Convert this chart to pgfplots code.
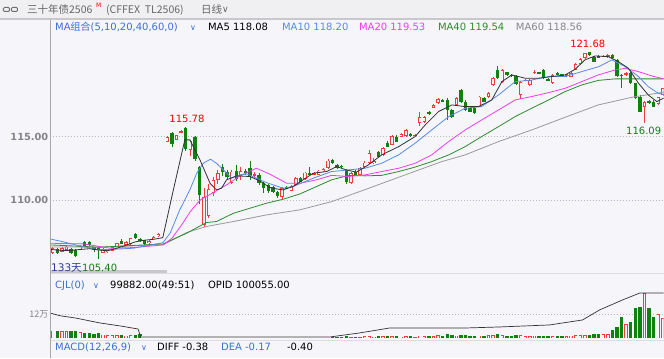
\documentclass[border=0pt]{standalone}
\usepackage{pgfplots}
\pgfplotsset{compat=1.18}
\usepackage{pgfplotstable}
\usepackage{fontspec}
\setmainfont{DejaVu Sans}
\newfontfamily\cjk{Noto Sans CJK SC}
\definecolor{bg}{HTML}{F5F5FA}
\definecolor{hdr}{HTML}{F0F0F3}
\definecolor{up}{HTML}{F23C3C}
\definecolor{dn}{HTML}{0E820E}
\definecolor{ma5}{HTML}{333333}
\definecolor{ma10}{HTML}{5A8AE8}
\definecolor{ma20}{HTML}{F03CF0}
\definecolor{ma40}{HTML}{2E8B2E}
\definecolor{ma60}{HTML}{9A9A9A}
\definecolor{lblue}{HTML}{3C6FD8}
\definecolor{tickc}{HTML}{858585}
\definecolor{sep}{HTML}{C8C8CC}
\definecolor{sep2}{HTML}{DCDCE2}
\definecolor{axc}{HTML}{A8A8A8}
\definecolor{icon}{HTML}{707070}
\definecolor{ttl}{HTML}{666666}
\definecolor{g88}{HTML}{888888}
\definecolor{darkb}{HTML}{2A3A9A}
\definecolor{lgreen}{HTML}{1A7A1A}

\pgfplotstableread{
i o h l c
0 105.85 106.30 105.78 106.20
2 105.95 106.30 105.90 106.20
3 106.05 106.45 106.00 106.35
6 106.10 106.50 106.05 106.40
11 105.88 106.20 105.85 106.14
12 105.92 106.12 105.85 106.08
13 106.04 106.35 106.00 106.30
14 106.35 106.65 106.30 106.61
16 106.50 106.75 106.45 106.70
17 106.56 107.05 106.50 107.00
21 106.61 106.85 106.58 106.80
22 106.95 107.18 106.92 107.13
23 107.15 107.40 107.12 107.35
25 114.60 115.05 114.55 114.95
27 114.74 115.15 114.70 115.13
28 115.35 115.55 115.30 115.45
30 113.95 114.75 113.48 114.69
33 108.05 110.95 107.90 110.25
34 108.75 111.30 108.60 110.90
35 110.60 111.85 110.30 111.60
36 111.60 112.35 111.30 112.10
39 111.35 112.35 111.30 112.25
41 111.90 112.60 111.60 112.30
44 111.95 112.20 111.80 112.05
50 110.23 111.00 110.10 110.94
52 110.76 111.20 110.70 111.12
53 111.20 111.80 111.15 111.73
55 111.65 112.25 111.60 112.17
57 112.05 112.20 111.95 112.10
58 111.99 112.40 111.95 112.33
59 112.30 112.50 112.25 112.45
60 112.51 113.20 112.45 113.12
65 111.38 112.20 111.30 112.12
67 111.99 112.60 111.95 112.51
68 112.59 113.05 112.55 112.96
69 112.90 113.95 112.85 113.69
70 112.90 113.30 112.85 113.10
72 113.56 114.15 113.50 114.08
74 114.35 115.10 114.30 115.05
76 115.00 115.25 114.95 115.18
77 115.05 115.60 115.00 115.52
79 115.10 115.20 115.05 115.13
80 116.05 116.97 115.80 116.57
81 116.18 116.65 116.10 116.57
83 117.28 117.55 117.25 117.49
84 117.62 118.05 117.55 117.94
88 117.49 118.10 117.40 118.01
93 117.36 118.20 117.30 118.15
95 118.09 118.50 118.05 118.46
96 119.06 119.65 119.00 119.59
98 119.32 120.30 119.25 120.24
102 118.28 119.40 117.94 119.32
103 119.40 119.55 119.35 119.45
104 119.06 119.50 119.00 119.45
105 120.00 120.20 119.95 120.10
109 119.19 119.90 119.10 119.85
112 119.80 119.95 119.70 119.90
113 119.72 120.10 119.70 120.03
114 120.24 120.75 120.20 120.71
115 120.71 121.15 120.65 121.11
116 121.16 121.60 121.10 121.55
120 121.29 121.40 121.25 121.34
121 121.24 121.50 121.20 121.42
125 119.85 120.05 119.80 119.98
129 117.31 117.80 116.09 117.75
132 117.57 118.15 117.50 118.09
133 118.28 118.85 118.20 118.80
}\candup

\pgfplotstableread{
i o h l c
1 106.15 106.22 105.80 105.85
4 106.15 106.22 105.75 105.85
5 106.10 106.15 105.55 105.62
7 106.68 106.78 106.35 106.40
8 106.70 106.80 106.40 106.45
9 106.30 106.35 105.95 106.05
10 106.20 106.35 105.40 106.17
15 106.80 106.95 106.52 106.56
18 107.32 107.40 106.95 107.00
19 106.93 107.00 106.70 106.75
20 106.83 106.90 106.50 106.56
26 115.26 115.35 114.20 114.45
29 115.66 115.78 113.90 114.05
31 115.00 115.05 113.10 113.25
32 112.60 112.70 109.70 110.40
37 112.60 112.85 111.90 112.20
38 112.20 112.40 111.65 111.80
40 112.33 112.80 111.50 111.70
42 112.30 112.45 112.00 112.10
43 112.50 113.05 111.60 111.90
45 112.00 112.10 111.20 111.35
46 111.33 111.40 110.55 110.94
47 111.20 111.30 110.60 110.75
48 111.07 111.15 110.55 110.68
49 110.68 110.75 110.15 110.29
51 111.05 111.15 110.85 110.94
54 111.73 111.85 111.40 111.46
56 112.17 112.64 111.90 111.99
61 113.17 113.25 112.85 112.90
62 112.78 112.85 112.45 112.51
63 112.70 112.80 112.55 112.62
64 112.38 112.45 111.30 111.46
66 112.25 112.35 111.90 111.99
71 113.82 113.90 113.35 113.43
73 114.53 114.65 114.15 114.21
75 115.00 115.10 114.55 114.61
78 115.18 115.25 114.98 115.03
82 116.97 117.05 116.70 116.78
85 117.88 117.95 117.70 117.75
86 117.88 118.00 116.31 117.10
87 117.10 117.20 116.45 116.57
89 118.67 118.75 117.65 117.75
90 117.75 117.85 117.00 117.10
91 117.23 117.30 116.90 116.97
92 117.23 117.30 116.75 116.83
94 118.01 118.10 117.70 117.75
97 120.24 120.56 119.50 119.59
99 120.06 120.10 119.80 119.85
100 119.85 119.90 119.70 119.80
101 119.77 119.85 119.05 119.14
106 120.05 120.10 119.95 120.00
107 120.24 120.30 119.50 119.59
108 119.50 119.60 119.35 119.40
110 120.00 120.10 119.85 119.90
111 119.88 119.95 119.80 119.85
117 121.63 121.68 121.35 121.42
118 121.29 121.35 120.85 120.90
119 121.34 121.40 121.20 121.24
122 121.42 121.50 121.10 121.16
123 121.03 121.10 119.70 119.77
124 119.85 119.95 118.80 119.80
126 119.98 120.05 119.10 119.19
127 119.19 119.25 117.95 118.01
128 118.15 118.25 116.90 116.97
130 117.83 117.90 117.55 117.62
131 117.75 117.85 117.30 117.36
}\canddn

\pgfplotstableread{
i v
0 3.8
2 3.5
3 3.7
6 3.2
11 1.8
12 1.6
13 1.5
14 1.6
16 1.3
17 1.5
65 0.6
67 0.7
68 0.9
69 1.2
70 0.8
72 1.1
74 1.2
76 0.8
77 1.0
79 0.7
80 1.3
81 1.2
83 1.2
84 1.4
88 1.3
93 1.3
95 1.4
96 1.6
98 1.5
102 1.5
103 1.1
104 1.2
105 1.3
109 1.1
112 1.1
113 1.3
114 1.4
115 1.6
116 1.7
120 2.1
121 2.2
125 7.0
129 22.5
132 12.0
133 10.0
}\volup

\pgfplotstableread{
i v
1 3.6
4 3.6
5 3.8
7 2.8
8 2.6
9 2.2
10 2.4
15 1.4
18 1.4
19 2.0
61 0.6
62 0.5
63 0.5
64 0.9
66 0.5
71 1.0
73 0.9
75 1.0
78 0.9
82 1.1
85 1.0
86 2.0
87 1.4
89 1.5
90 1.4
91 1.2
92 1.1
94 1.2
97 2.3
99 1.3
100 1.2
101 1.4
106 1.0
107 1.2
108 1.0
110 0.9
111 1.0
117 1.8
118 1.9
119 2.0
122 4.2
123 5.8
124 10.5
126 8.0
127 15.0
128 15.5
130 15.0
131 10.8
}\voldn

\newcommand\fs{\fontsize{10}{12}\selectfont}

\begin{document}
\begin{tikzpicture}[x=1pt,y=1pt]
\fill[bg] (0pt,0pt) rectangle (664pt,358pt);
\fill[hdr] (0pt,339pt) rectangle (664pt,358pt);

\begin{axis}[at={(50pt,85pt)}, anchor=south west, scale only axis,
  width=614pt, height=254pt,
  xmin=-0.59, xmax=133.18, ymin=104.28, ymax=124.25,
  axis line style={draw=none}, xtick=\empty,
  ytick={110,115}, yticklabels={110.00,115.00},
  major tick length=0pt,
  ymajorgrids, grid style={gray!55, dash pattern=on 1.2pt off 1.8pt, line width=0.6pt},
  yticklabel style={font=\bfseries\fontsize{9.8}{11}\selectfont, text=tickc, inner sep=1.5pt},
  error bars/error mark=none]
% wicks
\addplot[draw=none, mark=none, error bars/.cd, y dir=both, y explicit,
  error bar style={line width=0.7pt, draw=up}]
  table[x=i, y expr={(\thisrow{h}+\thisrow{l})/2}, y error expr={(\thisrow{h}-\thisrow{l})/2}] {\candup};
\addplot[draw=none, mark=none, error bars/.cd, y dir=both, y explicit,
  error bar style={line width=0.7pt, draw=dn}]
  table[x=i, y expr={(\thisrow{h}+\thisrow{l})/2}, y error expr={(\thisrow{h}-\thisrow{l})/2}] {\canddn};
% bodies
\addplot[draw=none, mark=none, error bars/.cd, y dir=both, y explicit,
  error bar style={line width=3.4pt, draw=up}]
  table[x=i, y expr={(\thisrow{o}+\thisrow{c})/2}, y error expr={max(abs(\thisrow{c}-\thisrow{o})/2,0.045)}] {\candup};
\addplot[draw=none, mark=none, error bars/.cd, y dir=both, y explicit,
  error bar style={line width=1.8pt, draw=bg}]
  table[x=i, y expr={(\thisrow{o}+\thisrow{c})/2}, y error expr={max(abs(\thisrow{c}-\thisrow{o})/2-0.07,0)}] {\candup};
\addplot[draw=none, mark=none, error bars/.cd, y dir=both, y explicit,
  error bar style={line width=3.4pt, draw=dn}]
  table[x=i, y expr={(\thisrow{o}+\thisrow{c})/2}, y error expr={max(abs(\thisrow{c}-\thisrow{o})/2,0.045)}] {\canddn};
% moving averages
\addplot[ma60, line width=0.8pt] coordinates {(-0.6,106.32) (10,106.3) (24.1,106.5) (29.2,107.45) (33.5,107.93) (39.4,108.32) (46.6,108.84) (53.9,109.24) (60.85,109.89) (68.1,110.83) (75.4,111.8) (84.8,113.03) (89.9,113.56) (97.2,114.61) (104.4,115.52) (111.7,116.52) (118.9,117.49) (126.2,118.09) (133.3,118.5)};
\addplot[ma40, line width=0.8pt] coordinates {(-0.6,106.48) (10.3,106.3) (24.1,106.56) (29.2,107.4) (33.5,108.24) (35.7,108.32) (39.4,108.97) (46.6,109.76) (50.2,110.07) (53.9,110.49) (57.5,111.07) (60.8,111.6) (64.5,111.95) (68.1,111.91) (71.7,111.95) (75.4,112.25) (79,112.6) (82.6,113.03) (86.3,113.56) (89.9,114.21) (93.5,115.0) (97.2,115.79) (100.8,116.57) (104.4,117.23) (108.1,117.88) (111.7,118.54) (115.3,119.06) (118.9,119.42) (122.6,119.54) (133.3,119.54)};
\addplot[ma20, line width=0.8pt] coordinates {(-0.6,106.61) (6.7,106.56) (12.5,106.22) (17.6,106.27) (24.1,106.48) (26,107.0) (28,108.0) (30,109.1) (32.1,110.0) (35,110.6) (37.9,111.2) (40.8,111.9) (44.4,112.51) (47.3,112.05) (51,111.33) (53.9,111.33) (57.5,111.6) (60.8,111.95) (64.5,111.86) (68.1,111.99) (71.7,112.25) (75.4,112.51) (79,112.9) (82.6,113.56) (86.3,114.61) (89.9,115.52) (93.5,116.31) (97.2,117.1) (100.8,117.88) (104.4,118.15) (108.1,118.46) (111.7,118.8) (115.3,119.32) (118.9,119.85) (122.6,120.24) (124.8,120.37) (127.7,120.11) (130.6,119.77) (133.3,119.53)};
\addplot[ma10, line width=0.8pt] coordinates {(-0.6,106.95) (2,106.75) (5,106.48) (8,106.25) (10,106.09) (14,106.15) (17.6,106.22) (21,106.45) (24,106.65) (25.6,107.4) (27.7,109.24) (29.9,110.81) (31.4,112.12) (32.8,112.9) (34.4,113.22) (35.7,112.9) (37.2,112.38) (39,111.73) (40.8,111.99) (42.3,112.07) (44.4,111.73) (46.6,111.38) (50.2,110.94) (52.4,111.07) (56.8,111.73) (60.8,112.25) (64.5,112.38) (68.1,112.51) (71.7,112.9) (75.4,113.56) (79,114.48) (82.6,115.52) (86.3,116.57) (89.9,117.23) (93.5,117.36) (97.2,118.28) (100.8,119.32) (104.4,119.45) (108.1,119.72) (111.7,119.72) (115.3,120.11) (119,120.5) (121.9,121.03) (124.8,120.5) (127.7,119.72) (129.8,118.93) (132,118.41) (133.3,118.3)};
\addplot[ma5, line width=0.8pt] coordinates {(-0.5,106.12) (2,106.05) (4,106.05) (6,106.12) (8,106.18) (10,106.08) (12,106.02) (14,106.22) (16,106.45) (18,106.72) (20,106.85) (22,106.92) (24,107.05) (26.3,110.8) (28.8,114.74) (29.9,114.74) (32.1,113.17) (34.3,111.33) (35.7,110.81) (36.8,110.94) (37.9,111.6) (40.1,111.91) (43,111.86) (45.2,111.5) (47.3,111.0) (48.5,110.9) (50.2,110.81) (52.4,111.07) (54.6,111.6) (56.8,112.12) (59.7,112.25) (61.9,112.64) (64,112.38) (66.2,112.2) (68.8,112.77) (71.7,113.56) (75.4,114.21) (79,115.0) (81.2,115.92) (84.1,116.97) (87,117.49) (89.9,117.36) (92.8,117.36) (95.7,117.88) (97.9,119.32) (100.1,119.85) (103,119.59) (105.9,119.59) (108.8,119.72) (111.7,119.85) (113.9,120.3) (116,121.03) (118.2,121.34) (121.1,121.29) (123.3,120.9) (125.5,120.37) (127.7,119.19) (129.8,118.28) (131.7,117.75) (133.3,118.05)};
\end{axis}

\begin{axis}[at={(50pt,18pt)}, anchor=south west, scale only axis,
  width=614pt, height=66pt,
  xmin=-0.59, xmax=133.18, ymin=-0.85, ymax=32.15,
  axis line style={draw=none}, xtick=\empty,
  ytick={12}, yticklabels={{\cjk 12万}},
  major tick length=0pt,
  ymajorgrids, grid style={gray!55, dash pattern=on 1.2pt off 1.8pt, line width=0.6pt},
  yticklabel style={font=\fontsize{9}{10}\selectfont, text=tickc, inner sep=1.5pt}]
\addplot[ycomb, line width=3.4pt, dn] table[x=i, y=v] {\voldn};
\addplot[ycomb, line width=3.4pt, up] table[x=i, y=v] {\volup};
\addplot[ycomb, line width=1.8pt, bg] table[x=i, y expr={max(\thisrow{v}-0.45,0)}] {\volup};
\addplot[gray!60, line width=2.5pt] coordinates {(19.2,0.6) (60.5,0.6)};
\addplot[ma5, line width=0.7pt] coordinates {(-0.6,12.6) (1.6,11.2) (4.9,10.1) (10.3,7.6) (14.7,6.1) (18.6,4.6) (19.2,0.6)};
\addplot[ma5, line width=0.7pt] coordinates {(60.5,0.6) (61.1,0.8) (66.9,2.6) (73.5,5.1) (90.3,5.1) (97.5,5.6) (108.3,6.6) (115.5,9.1) (119.2,14.1) (124.2,19.1) (128,22.6) (133.5,22.6)};
\end{axis}

% separators and frame
\fill[sep] (0pt,338pt) rectangle (664pt,339.8pt);
\fill[sep2] (50pt,83.5pt) rectangle (664pt,85.3pt);
\fill[sep] (50pt,85pt) rectangle (167pt,88.2pt);
\fill[sep2] (50pt,17pt) rectangle (664pt,18pt);
\draw[axc, line width=0.8pt] (50.5pt,0pt) -- (50.5pt,338pt);

% header
\draw[icon, line width=1pt, rounded corners=1pt] (3.5pt,346.5pt) rectangle (9.5pt,350.5pt);
\draw[icon, line width=1pt, rounded corners=1pt] (11.5pt,346.5pt) rectangle (17.5pt,350.5pt);
\node[anchor=base west, inner sep=0pt, text=ttl, font=\cjk\fontsize{10.5}{12}\selectfont] at (27pt,344.5pt) {三十年债2506};
\node[anchor=base west, inner sep=0pt, text=red, font=\fontsize{6}{7}\selectfont] at (96pt,350pt) {M};
\node[anchor=base west, inner sep=0pt, text=ttl, font=\cjk\fontsize{10.5}{12}\selectfont] at (106pt,344.5pt) {(CFFEX\ \ TL2506)};
\node[anchor=base west, inner sep=0pt, text=ttl, font=\cjk\fontsize{10.5}{12}\selectfont] at (201pt,344.5pt) {日线};
\node[anchor=base west, inner sep=0pt, text=ttl, font=\fontsize{9}{10}\selectfont] at (222pt,345pt) {∨};

% legend row
\node[anchor=base west, inner sep=0pt, text=lblue, font=\fs] at (55pt,327pt) {MA{\cjk 组合}(5,10,20,40,60,0)};
\node[anchor=base west, inner sep=0pt, text=lblue, font=\fontsize{8}{9}\selectfont] at (190pt,327.5pt) {∨};
\node[anchor=base west, inner sep=0pt, text=black, font=\fs] at (208pt,327pt) {MA5 118.08};
\node[anchor=base west, inner sep=0pt, text=ma10, font=\fs] at (282pt,327pt) {MA10 118.20};
\node[anchor=base west, inner sep=0pt, text=ma20, font=\fs] at (359pt,327pt) {MA20 119.53};
\node[anchor=base west, inner sep=0pt, text=ma40, font=\fs] at (438pt,327pt) {MA40 119.54};
\node[anchor=base west, inner sep=0pt, text=g88, font=\fs] at (516pt,327pt) {MA60 118.56};

% price annotations
\node[inner sep=0pt, text=red, font=\fs] at (187pt,239pt) {115.78};
\node[inner sep=0pt, text=red, font=\fs] at (588pt,314pt) {121.68};
\node[inner sep=0pt, text=lgreen, font=\fs] at (644pt,227pt) {116.09};
\node[anchor=base west, inner sep=0pt, text=darkb, font=\fontsize{10.5}{12}\selectfont] at (51pt,86.5pt) {133{\cjk 天}};
\node[anchor=base west, inner sep=0pt, text=lgreen, font=\fs] at (82pt,86.5pt) {105.40};

% volume row
\node[anchor=base west, inner sep=0pt, text=lblue, font=\fs] at (55pt,69pt) {CJL(0)};
\node[anchor=base west, inner sep=0pt, text=lblue, font=\fontsize{8}{9}\selectfont] at (93pt,69.5pt) {∨};
\node[anchor=base west, inner sep=0pt, text=black, font=\fs] at (110pt,69pt) {99882.00(49:51)};
\node[anchor=base west, inner sep=0pt, text=black, font=\fs] at (208pt,69pt) {OPID 100055.00};

% macd row
\node[anchor=base west, inner sep=0pt, text=lblue, font=\fs] at (55pt,7pt) {MACD(12,26,9)};
\node[anchor=base west, inner sep=0pt, text=lblue, font=\fontsize{8}{9}\selectfont] at (141pt,7.5pt) {∨};
\node[anchor=base west, inner sep=0pt, text=black, font=\fs] at (157pt,7pt) {DIFF -0.38};
\node[anchor=base west, inner sep=0pt, text=lblue, font=\fs] at (221pt,7pt) {DEA -0.17};
\node[anchor=base west, inner sep=0pt, text=black, font=\fs] at (287pt,7pt) {-0.40};
\end{tikzpicture}
\end{document}
